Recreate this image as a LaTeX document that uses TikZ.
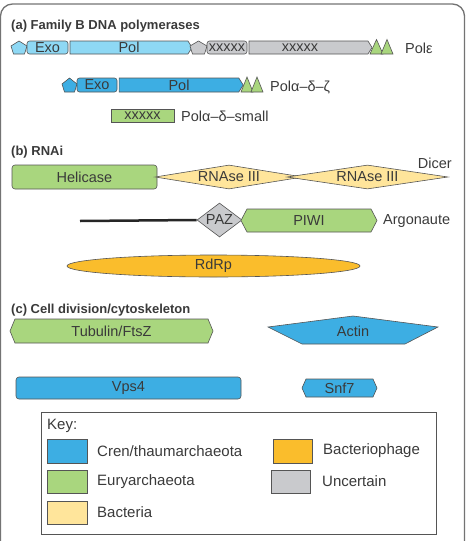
\documentclass[tikz,border=0pt]{standalone}
\usepackage{fontspec}
\setmainfont{Liberation Sans}
\usetikzlibrary{shapes.geometric,shapes.symbols}
\definecolor{lblue}{RGB}{142,216,244}
\definecolor{cblue}{RGB}{61,174,227}
\definecolor{egreen}{RGB}{169,214,126}
\definecolor{byellow}{RGB}{255,229,155}
\definecolor{porange}{RGB}{250,189,44}
\definecolor{ugray}{RGB}{201,202,205}
\definecolor{ink}{RGB}{58,58,58}
\definecolor{edge}{RGB}{85,85,85}

\begin{document}
\begin{tikzpicture}[x=1pt,y=1pt]
\tikzstyle{every node}+=[inner sep=0pt, text=ink, font=\fontsize{14.5}{17}\selectfont]
\tikzstyle{dom}=[draw=edge, line width=0.6pt]
\tikzstyle{head}=[anchor=base west, font=\fontsize{13}{16}\selectfont\bfseries]
\tikzstyle{chev}=[dom, signal, signal pointer angle=116]
\tikzstyle{keytext}=[anchor=west, font=\fontsize{15}{18}\selectfont]
\useasboundingbox (0,0) rectangle (471,-541);
\clip (0,0) rectangle (471,-541);
\draw [black!55, line width=1.3pt, rounded corners=12pt] (0.5,-600) -- (0.5,-4) -- (464.5,-4) -- (464.5,-600);
% (a) polymerases
\node [head] (ha) at (11,-29) {(a) Family B DNA polymerases};
\draw [dom, fill=lblue] (11,-46) -- (19,-41) -- (27,-46) -- (24.5,-54) -- (13.5,-54) -- cycle;
\node [dom, fill=lblue, rounded corners=2.5pt, minimum width=41pt, minimum height=13pt] (exoE) at (47.5,-47.5) {Exo};
\node [chev, fill=lblue, signal to=east, minimum width=122pt, minimum height=13pt] (polE) at (129,-47.5) {Pol};
\draw [dom, fill=ugray] (190,-46) -- (198.5,-41) -- (207,-46) -- (204.5,-54) -- (192.5,-54) -- cycle;
\node [dom, fill=ugray, rounded corners=2.5pt, minimum width=40pt, minimum height=13pt] (xsE) at (227,-47.5) {xxxxx};
\node [chev, fill=ugray, signal to=east, minimum width=123pt, minimum height=13pt] (xlE) at (308.5,-47.5) {};
\node (xlEt) at (300,-47.5) {xxxxx};
\draw [dom, fill=egreen] (370,-54) -- (376.5,-39.5) -- (383,-54) -- cycle;
\draw [dom, fill=egreen] (381,-54) -- (387,-39.5) -- (393,-54) -- cycle;
\node [anchor=base west] (lblE) at (405,-53) {Polε};
\draw [dom, fill=cblue] (62,-84) -- (69.5,-78) -- (77,-84) -- (74.5,-92) -- (64.5,-92) -- cycle;
\node [dom, fill=cblue, rounded corners=2.5pt, minimum width=40pt, minimum height=14pt] (exoD) at (97,-85) {Exo};
\node [chev, fill=cblue, signal to=east, minimum width=124pt, minimum height=14pt] (polD) at (179,-85) {Pol};
\draw [dom, fill=egreen] (241,-92) -- (247,-77) -- (253,-92) -- cycle;
\draw [dom, fill=egreen] (251,-92) -- (257,-77) -- (263,-92) -- cycle;
\node [anchor=base west] (lblD) at (270,-91.5) {Polα–δ–ζ};
\node [dom, fill=egreen, minimum width=63pt, minimum height=13pt] (xsS) at (142.5,-115.5) {xxxxx};
\node [anchor=base west] (lblS) at (181,-121) {Polα–δ–small};
% (b) RNAi
\node [head] (hb) at (11,-155) {(b) RNAi};
\node [dom, fill=egreen, rounded corners=3pt, minimum width=145pt, minimum height=24pt] (hel) at (84.5,-177) {Helicase};
\node [dom, diamond, aspect=6, fill=byellow, minimum width=148pt, minimum height=24pt] (rn1) at (229,-177) {RNAse III};
\node [dom, diamond, aspect=6, fill=byellow, minimum width=161pt, minimum height=24pt] (rn2) at (367.5,-177) {RNAse III};
\node [anchor=east] (dicer) at (452,-163) {Dicer};
\coordinate (tail) at (80,-221);
\node [dom, diamond, aspect=1.3, fill=ugray, minimum width=45pt, minimum height=34pt] (paz) at (219.5,-220) {PAZ};
\draw [black!85, line width=2.5pt] (tail) -- (paz.west);
\node [chev, signal to=east and west, signal pointer angle=125, fill=egreen, minimum width=136pt, minimum height=23pt] (piwi) at (309,-220.5) {PIWI};
\node [anchor=west] (argo) at (383,-221) {Argonaute};
\node [dom, ellipse, fill=porange, minimum width=293pt, minimum height=22pt] (rdrp) at (213.5,-266) {RdRp};
% (c) cytoskeleton
\node [head] (hc) at (11,-313) {(c) Cell division/cytoskeleton};
\node [chev, signal to=east and west, signal pointer angle=135, fill=egreen, minimum width=203pt, minimum height=24pt] (tub) at (111.5,-331) {Tubulin/FtsZ};
\draw [dom, fill=cblue] (268,-327) -- (353,-316) -- (438,-327) -- (405,-344) -- (302,-344) -- cycle;
\node (actin) at (353,-331) {Actin};
\node [dom, fill=cblue, rounded corners=3pt, minimum width=225pt, minimum height=22pt] (vps) at (128.5,-388) {Vps4};
\node [chev, signal to=east and west, signal pointer angle=132, fill=cblue, minimum width=75pt, minimum height=18pt] (snf) at (339.5,-388) {Snf7};
% key
\node [draw=edge, line width=0.8pt, minimum width=395pt, minimum height=122pt] (key) at (238.5,-473) {};
\node [keytext] (keyt) at (47,-426) {Key:};
\node [dom, fill=cblue, minimum width=40pt, minimum height=24pt] (swC) at (67,-451) {};
\node [keytext] (txC) at (97,-451) {Cren/thaumarchaeota};
\node [dom, fill=egreen, minimum width=40pt, minimum height=23pt] (swE) at (67,-481.5) {};
\node [keytext] (txE) at (97,-481.5) {Euryarchaeota};
\node [dom, fill=byellow, minimum width=40pt, minimum height=23pt] (swB) at (67,-512.5) {};
\node [keytext] (txB) at (97,-512.5) {Bacteria};
\node [dom, fill=porange, minimum width=39pt, minimum height=24pt] (swP) at (292.5,-451) {};
\node [keytext] (txP) at (323,-451) {Bacteriophage};
\node [dom, fill=ugray, minimum width=39pt, minimum height=23pt] (swU) at (290.5,-481.5) {};
\node [keytext] (txU) at (322,-481.5) {Uncertain};
\end{tikzpicture}
\end{document}
